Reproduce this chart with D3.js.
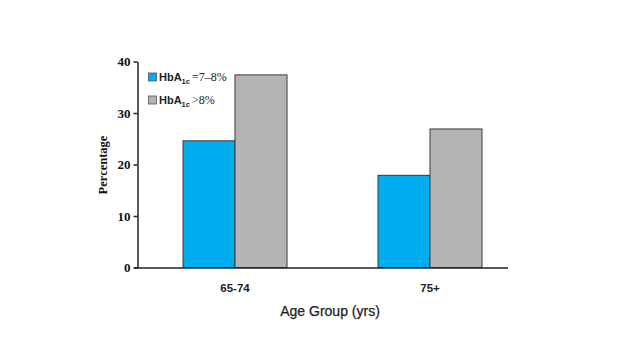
<!DOCTYPE html>
<html><head><meta charset="utf-8">
<script src="https://cdn.jsdelivr.net/npm/d3@7"></script>
<style>body{margin:0;background:#fff}</style>
</head><body>
<svg id="c" width="638" height="359"></svg>
<script>
const categories = ["65-74", "75+"];
const seriesNames = ["=7–8%", ">8%"];
const hba78 = [24.6, 17.9];
const hba8 = [37.4, 26.9];
const yTicks = [0, 10, 20, 30, 40];

const colors = ["#00aeef", "#b4b4b4"];
const svg = d3.select("#c");
const y = d3.scaleLinear().domain([0, 40]).range([267.5, 61.5]);
const x = d3.scaleBand().domain(categories).range([183, 482]).paddingInner(0.4667).paddingOuter(0);
const xs = d3.scaleBand().domain([0, 1]).range([0, x.bandwidth()]);
const series = [hba78, hba8];

categories.forEach((c, i) => {
  series.forEach((s, j) => {
    svg.append("rect")
      .attr("x", x(c) + xs(j)).attr("width", xs.bandwidth())
      .attr("y", y(s[i])).attr("height", y(0) - y(s[i]))
      .attr("fill", colors[j]).attr("stroke", "#3a3a3a").attr("stroke-width", 1);
  });
});

const yAxis = svg.append("g").attr("transform", "translate(137.5,0)")
  .call(d3.axisLeft(y).tickValues(yTicks).tickSize(4).tickPadding(3).tickSizeOuter(0));
yAxis.select(".domain").attr("stroke", "#222").attr("stroke-width", 1.5);
yAxis.selectAll(".tick line").attr("stroke", "#222").attr("stroke-width", 1.5);
yAxis.selectAll("text").attr("font-family", "Liberation Serif").attr("font-weight", "bold")
  .attr("font-size", 13).attr("fill", "#111");

svg.append("line").attr("x1", 134).attr("x2", 508).attr("y1", 268).attr("y2", 268)
  .attr("stroke", "#222").attr("stroke-width", 1.5);

categories.forEach(c => {
  svg.append("text").attr("x", x(c) + x.bandwidth() / 2).attr("y", 292)
    .attr("text-anchor", "middle").attr("font-family", "Liberation Sans").attr("font-weight", "bold")
    .attr("font-size", 11.5).attr("fill", "#222").text(c);
});

svg.append("text").attr("x", 330).attr("y", 316).attr("text-anchor", "middle")
  .attr("font-family", "Liberation Sans").attr("font-size", 14).attr("fill", "#222")
  .attr("stroke", "#222").attr("stroke-width", 0.25)
  .text("Age Group (yrs)");

svg.append("text").attr("transform", "translate(107,165) rotate(-90)").attr("text-anchor", "middle")
  .attr("font-family", "Liberation Serif").attr("font-weight", "bold").attr("font-size", 12.5)
  .attr("fill", "#111").text("Percentage");

seriesNames.forEach((n, j) => {
  const yy = 77 + j * 23;
  svg.append("rect").attr("x", 148.5).attr("y", yy - 4).attr("width", 8).attr("height", 8)
    .attr("fill", colors[j]).attr("stroke", "#555").attr("stroke-width", 0.8);
  const t = svg.append("text").attr("x", 159).attr("y", yy + 4).attr("fill", "#222").attr("font-size", 11);
  t.append("tspan").attr("font-family", "Liberation Sans").attr("font-weight", "bold").text("HbA");
  t.append("tspan").attr("font-family", "Liberation Sans").attr("font-weight", "bold")
    .attr("font-size", 7.5).attr("dy", 2.5).text("1c");
  t.append("tspan").attr("font-family", "Liberation Serif").attr("font-size", 12).attr("dy", -2.5).attr("dx", 2).text(n);
});
</script>
</body></html>
